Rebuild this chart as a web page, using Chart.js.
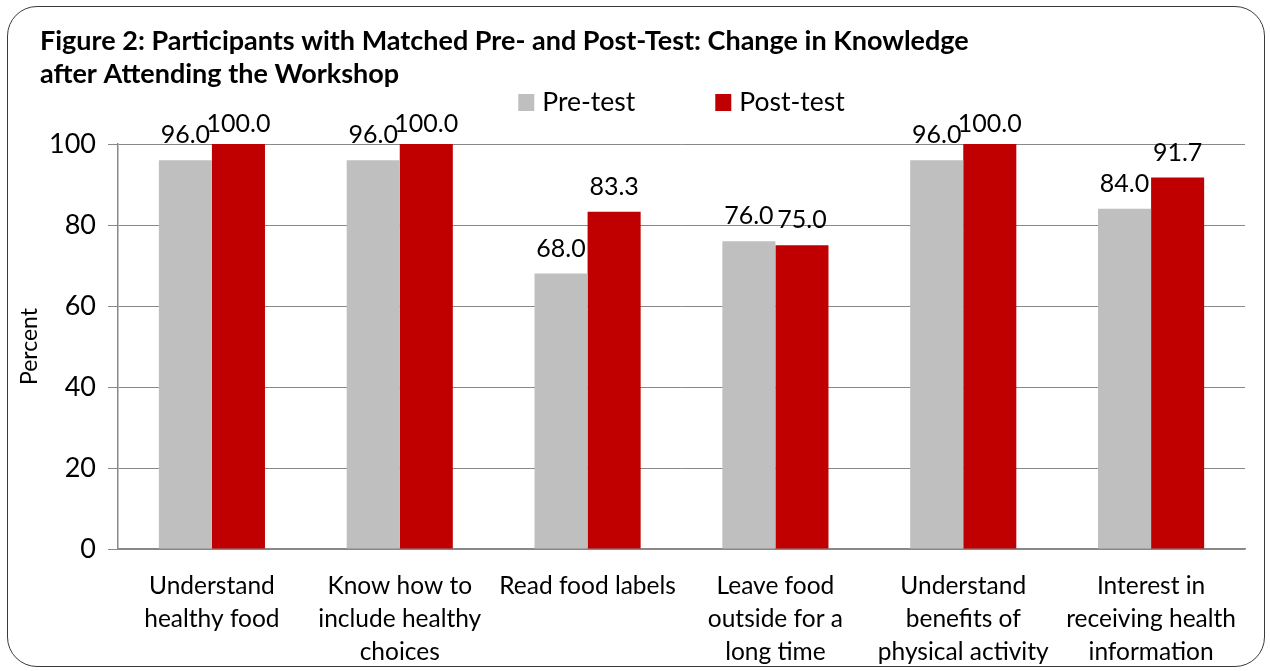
<!DOCTYPE html>
<html>
<head>
<meta charset="utf-8">
<script src="https://cdn.jsdelivr.net/npm/chart.js@4/dist/chart.umd.min.js"></script>
<style>
  html, body { margin: 0; padding: 0; background: #fff; }
  #wrap { position: relative; width: 1270px; height: 671px; }
  #frame {
    position: absolute; left: 7px; top: 6px; width: 1258px; height: 661px;
    border: 1.5px solid #3a3a3a; border-radius: 30px; box-sizing: border-box;
  }
  #myChart { position: absolute; left: 0; top: 0; }
</style>
</head>
<body>
<div id="wrap">
  <div id="frame"></div>
  <canvas id="myChart" width="1270" height="671"></canvas>
</div>
<script>
// categories (multi-line labels as drawn under the axis)
const categories = [
  ['Understand', 'healthy food'],
  ['Know how to', 'include healthy', 'choices'],
  ['Read food labels'],
  ['Leave food', 'outside for a', 'long time'],
  ['Understand', 'benefits of', 'physical activity'],
  ['Interest in', 'receiving health', 'information']
];
const preTest = [96.0, 96.0, 68.0, 76.0, 96.0, 84.0];
const postTest = [100.0, 100.0, 83.3, 75.0, 100.0, 91.7];
const yTicks = [0, 20, 40, 60, 80, 100];

const titleLines = [
  'Figure 2: Participants with Matched Pre- and Post-Test: Change in Knowledge',
  'after Attending the Workshop'
];
const FONT = 'Lato, "Open Sans", sans-serif';

// title + legend drawn by hand so they sit where the original has them
const headerPlugin = {
  id: 'header',
  afterDraw(chart) {
    const ctx = chart.ctx;
    ctx.save();
    ctx.fillStyle = '#000';
    ctx.font = 'bold 27px ' + FONT;
    ctx.textAlign = 'left';
    ctx.textBaseline = 'alphabetic';
    ctx.fillText(titleLines[0], 40, 50);
    ctx.fillText(titleLines[1], 40, 83);

    // legend
    ctx.font = '26.5px ' + FONT;
    const items = chart.data.datasets.map(ds => ({
      label: ds.label, color: ds.backgroundColor, w: ctx.measureText(ds.label).width
    }));
    const box = 16, gap = 8, between = 80;
    let total = 0;
    items.forEach((it, i) => { total += box + gap + it.w + (i ? between : 0); });
    const area = chart.chartArea;
    let x = (area.left + area.right) / 2 - total / 2;
    const cy = 102;
    items.forEach((it) => {
      ctx.fillStyle = it.color;
      ctx.fillRect(x, cy - 8, box, 17);
      ctx.fillStyle = '#000';
      ctx.textBaseline = 'middle';
      ctx.fillText(it.label, x + box + gap, cy);
      x += box + gap + it.w + between;
    });
    ctx.restore();
  }
};

const valueLabels = {
  id: 'valueLabels',
  afterDatasetsDraw(chart) {
    const ctx = chart.ctx;
    ctx.save();
    ctx.font = '25px ' + FONT;
    ctx.fillStyle = '#000';
    ctx.textAlign = 'center';
    ctx.textBaseline = 'alphabetic';
    const top = chart.chartArea.top;
    chart.data.datasets.forEach((ds, di) => {
      chart.getDatasetMeta(di).data.forEach((bar, i) => {
        // keep labels from climbing too far above the plot, like the original
        const y = Math.max(bar.y - 17, top - 12);
        ctx.fillText(ds.data[i].toFixed(1), bar.x, y);
      });
    });
    ctx.restore();
  }
};

const ctx = document.getElementById('myChart').getContext('2d');
new Chart(ctx, {
  type: 'bar',
  data: {
    labels: categories,
    datasets: [
      { label: 'Pre-test', data: preTest, backgroundColor: '#BFBFBF' },
      { label: 'Post-test', data: postTest, backgroundColor: '#C00000' }
    ]
  },
  options: {
    responsive: false,
    animation: false,
    layout: { padding: { top: 144, right: 25, left: 0, bottom: 0 } },
    datasets: { bar: { categoryPercentage: 0.565, barPercentage: 1.0 } },
    plugins: {
      legend: { display: false },
      title: { display: false },
      tooltip: { enabled: false }
    },
    scales: {
      x: {
        grid: { display: false },
        border: { display: true, color: '#888', width: 1.5 },
        ticks: {
          color: '#000', padding: 12, maxRotation: 0, autoSkip: false,
          font: { family: FONT, size: 24.5, lineHeight: 1.36 }
        },
        afterFit(scale) { scale.height = 122; }
      },
      y: {
        min: 0, max: 100,
        afterBuildTicks(scale) { scale.ticks = yTicks.map(v => ({ value: v })); },
        grid: { color: '#888', lineWidth: 1, tickLength: 10 },
        border: { display: true, color: '#888', width: 1.5 },
        ticks: {
          color: '#000', padding: 12,
          font: { family: FONT, size: 27 }
        },
        title: {
          display: true, text: 'Percent', color: '#000',
          font: { family: FONT, size: 23 }, padding: { top: 16, bottom: 0 }
        },
        afterFit(scale) { scale.width = 118; }
      }
    }
  },
  plugins: [headerPlugin, valueLabels]
});
</script>
</body>
</html>
